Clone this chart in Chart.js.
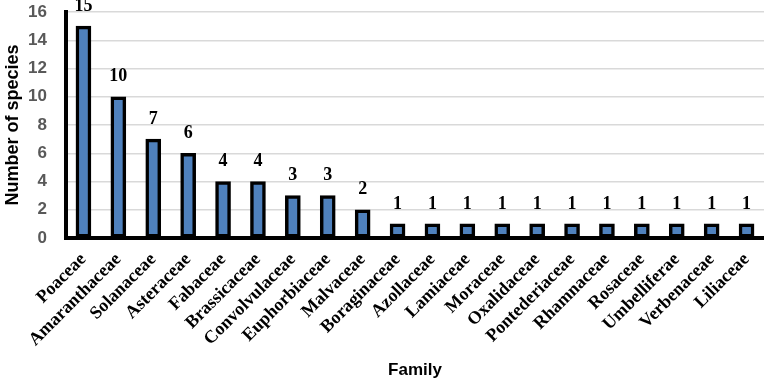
<!DOCTYPE html>
<html><head><meta charset="utf-8">
<script src="https://cdn.jsdelivr.net/npm/chart.js@4/dist/chart.umd.min.js"></script>
<style>html,body{margin:0;padding:0;background:#fff}#w{width:764px;height:383px}</style>
</head><body><div id="w"><canvas id="c"></canvas></div>
<script>
const families = ["Poaceae","Amaranthaceae","Solanaceae","Asteraceae","Fabaceae","Brassicaceae","Convolvulaceae","Euphorbiaceae","Malvaceae","Boraginaceae","Azollaceae","Lamiaceae","Moraceae","Oxalidaceae","Pontederiaceae","Rhamnaceae","Rosaceae","Umbelliferae","Verbenaceae","Liliaceae"];
const species = [15,10,7,6,4,4,3,3,2,1,1,1,1,1,1,1,1,1,1,1];
const yTicks = [0,2,4,6,8,10,12,14,16];

const valueLabels = {
  id: 'valueLabels',
  afterDatasetsDraw(chart) {
    const ctx = chart.ctx;
    const meta = chart.getDatasetMeta(0);
    ctx.save();
    ctx.font = 'bold 18px "Liberation Serif", "Times New Roman", serif';
    ctx.fillStyle = '#000';
    ctx.textAlign = 'center';
    ctx.textBaseline = 'bottom';
    meta.data.forEach((bar, i) => {
      ctx.fillText(String(species[i]), bar.x, bar.y - 11);
    });
    ctx.restore();
  }
};

new Chart(document.getElementById('c'), {
  type: 'bar',
  data: { labels: families, datasets: [{ data: species, backgroundColor: '#4f81bd', borderColor: '#000', borderWidth: 3.5, barThickness: 15, borderSkipped: false }] },
  options: {
    responsive: true, maintainAspectRatio: false, animation: false,
    layout: { padding: { top: 12, right: 0, left: 0, bottom: 0 } },
    plugins: { legend: { display: false }, tooltip: { enabled: false } },
    scales: {
      x: {
        afterFit: (s) => { s.height = 145; s.paddingLeft = 0; s.paddingRight = 0; },
        grid: { display: false, drawTicks: false },
        border: { color: '#000', width: 4 },
        ticks: { minRotation: 45, maxRotation: 45, color: '#000', padding: 11, autoSkip: false,
          font: { family: '"Liberation Serif", "Times New Roman", serif', weight: 'bold', size: 18 } },
        title: { display: true, text: 'Family', color: '#000', padding: { top: 4, bottom: 2 },
          font: { family: '"Liberation Sans", Arial, sans-serif', weight: 'bold', size: 17 } }
      },
      y: {
        min: 0, max: 16,
        afterFit: (s) => { s.width = 66; s.paddingTop = 0; s.paddingBottom = 0; },
        afterBuildTicks: (s) => { s.ticks = yTicks.map(v => ({ value: v })); },
        grid: { color: '#d9d9d9', lineWidth: 1.5, drawTicks: false },
        border: { color: '#000', width: 4 },
        ticks: { color: '#595959', padding: 19,
          font: { family: '"Liberation Sans", Arial, sans-serif', weight: 'bold', size: 17 } },
        title: { display: true, text: 'Number of species', color: '#000', padding: { top: 2, bottom: 4 },
          font: { family: '"Liberation Sans", Arial, sans-serif', weight: 'bold', size: 18 } }
      }
    }
  },
  plugins: [valueLabels]
});
</script></body></html>
